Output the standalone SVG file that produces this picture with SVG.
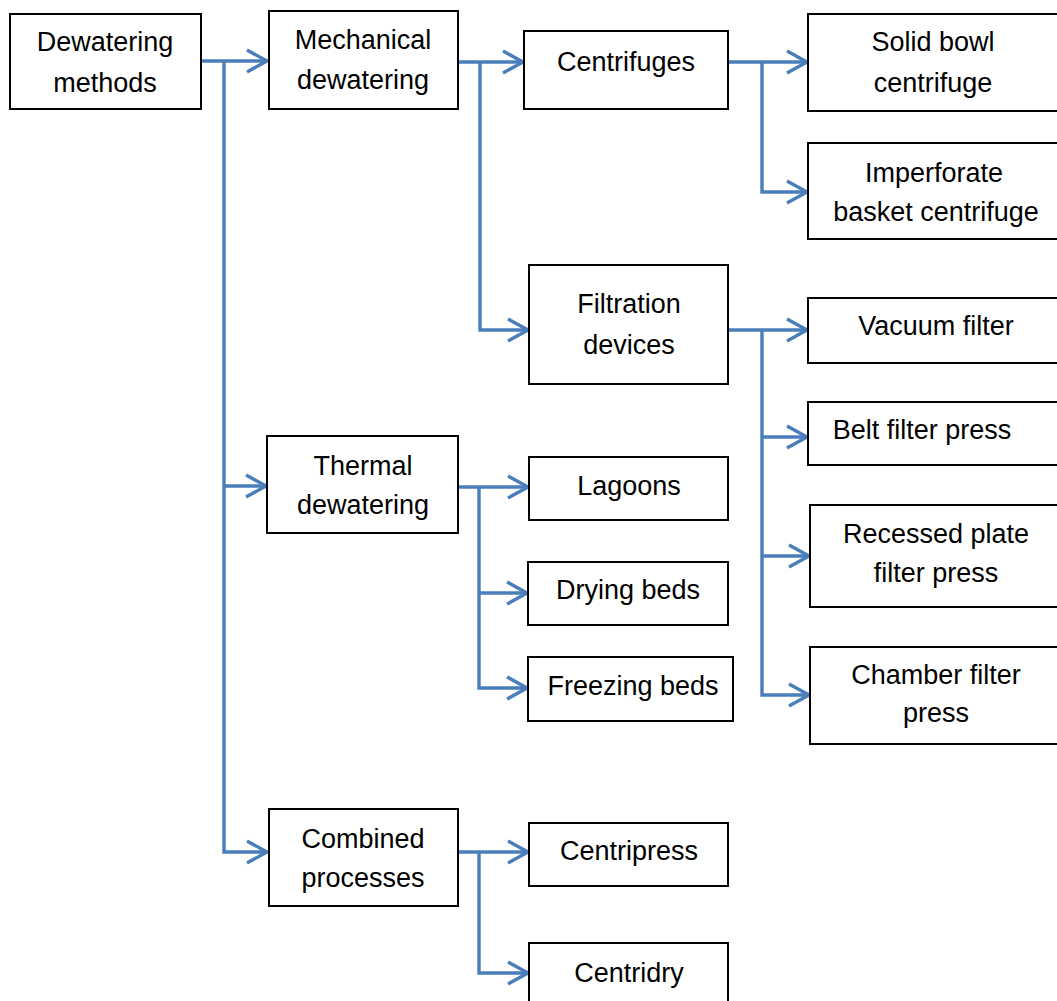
<svg xmlns="http://www.w3.org/2000/svg" width="1057" height="1001" viewBox="0 0 1057 1001">
<style>
.box{fill:#fff;stroke:#000;stroke-width:2}
.t{font-family:"Liberation Sans",Arial,sans-serif;font-size:27px;fill:#000;text-anchor:middle}
.c{fill:none;stroke:#4a7ebb;stroke-width:3.4}
</style>
<defs>
<marker id="ah" markerUnits="userSpaceOnUse" markerWidth="26" markerHeight="28" viewBox="0 0 26 28" refX="22" refY="14" orient="auto">
<path d="M2,3 L22,14 L2,25" fill="none" stroke="#4a7ebb" stroke-width="3.4"/>
</marker>
</defs>
<rect width="1057" height="1001" fill="#fff"/>
<g id="connectors">
<path class="c" d="M201,61 H267" marker-end="url(#ah)"/>
<path class="c" d="M224,61 V852 H267" marker-end="url(#ah)"/>
<path class="c" d="M224,486 H266" marker-end="url(#ah)"/>
<path class="c" d="M458,62 H523" marker-end="url(#ah)"/>
<path class="c" d="M480,62 V330 H528" marker-end="url(#ah)"/>
<path class="c" d="M728,62 H807" marker-end="url(#ah)"/>
<path class="c" d="M762,62 V192 H807" marker-end="url(#ah)"/>
<path class="c" d="M728,330 H807" marker-end="url(#ah)"/>
<path class="c" d="M762,330 V695 H809" marker-end="url(#ah)"/>
<path class="c" d="M762,437 H807" marker-end="url(#ah)"/>
<path class="c" d="M762,556 H809" marker-end="url(#ah)"/>
<path class="c" d="M458,487 H528" marker-end="url(#ah)"/>
<path class="c" d="M479,487 V688 H527" marker-end="url(#ah)"/>
<path class="c" d="M479,593 H527" marker-end="url(#ah)"/>
<path class="c" d="M458,852 H528" marker-end="url(#ah)"/>
<path class="c" d="M479,852 V973 H528" marker-end="url(#ah)"/>
</g>
<g id="dewatering-methods"><rect class="box" x="10" y="14" width="191" height="95"/><text class="t" x="105" y="51">Dewatering</text><text class="t" x="105" y="92">methods</text></g>
<g id="mechanical-dewatering"><rect class="box" x="269" y="11" width="189" height="98"/><text class="t" x="363" y="49">Mechanical</text><text class="t" x="363" y="89">dewatering</text></g>
<g id="centrifuges"><rect class="box" x="524" y="31" width="204" height="78"/><text class="t" x="626" y="71">Centrifuges</text></g>
<g id="solid-bowl"><rect class="box" x="808" y="14" width="260" height="97"/><text class="t" x="933" y="51">Solid bowl</text><text class="t" x="933" y="92">centrifuge</text></g>
<g id="imperforate"><rect class="box" x="808" y="143" width="260" height="96"/><text class="t" x="934" y="182">Imperforate</text><text class="t" x="936" y="221">basket centrifuge</text></g>
<g id="filtration-devices"><rect class="box" x="529" y="265" width="199" height="119"/><text class="t" x="629" y="313">Filtration</text><text class="t" x="629" y="354">devices</text></g>
<g id="vacuum-filter"><rect class="box" x="808" y="298" width="260" height="65"/><text class="t" x="936" y="335">Vacuum filter</text></g>
<g id="belt-filter-press"><rect class="box" x="808" y="402" width="260" height="63"/><text class="t" x="922" y="439">Belt filter press</text></g>
<g id="recessed-plate"><rect class="box" x="810" y="505" width="258" height="102"/><text class="t" x="936" y="543">Recessed plate</text><text class="t" x="936" y="582">filter press</text></g>
<g id="chamber-filter-press"><rect class="box" x="810" y="647" width="258" height="97"/><text class="t" x="936" y="684">Chamber filter</text><text class="t" x="936" y="722">press</text></g>
<g id="thermal-dewatering"><rect class="box" x="267" y="436" width="191" height="97"/><text class="t" x="363" y="475">Thermal</text><text class="t" x="363" y="514">dewatering</text></g>
<g id="lagoons"><rect class="box" x="529" y="457" width="199" height="63"/><text class="t" x="629" y="495">Lagoons</text></g>
<g id="drying-beds"><rect class="box" x="528" y="562" width="200" height="63"/><text class="t" x="628" y="599">Drying beds</text></g>
<g id="freezing-beds"><rect class="box" x="528" y="657" width="205" height="64"/><text class="t" x="633" y="695">Freezing beds</text></g>
<g id="combined-processes"><rect class="box" x="269" y="809" width="189" height="97"/><text class="t" x="363" y="848">Combined</text><text class="t" x="363" y="887">processes</text></g>
<g id="centripress"><rect class="box" x="529" y="823" width="199" height="63"/><text class="t" x="629" y="860">Centripress</text></g>
<g id="centridry"><rect class="box" x="529" y="943" width="199" height="70"/><text class="t" x="629" y="982">Centridry</text></g>
</svg>
